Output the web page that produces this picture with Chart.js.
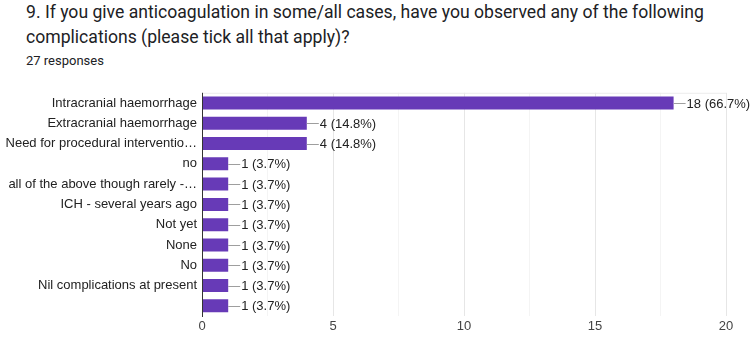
<!DOCTYPE html>
<html><head><meta charset="utf-8">
<script src="https://cdn.jsdelivr.net/npm/chart.js@4"></script>
<style>
html,body{margin:0;padding:0;background:#fff;width:755px;height:341px;overflow:hidden;font-family:Roboto,Arial,sans-serif}
#t{position:absolute;left:26px;top:0px;font-size:17.6px;line-height:25px;color:#202124;font-family:Roboto,sans-serif}
#s{position:absolute;left:26px;top:52px;font-size:13px;line-height:18px;color:#202124;font-family:Roboto,sans-serif}
#w{position:absolute;left:0;top:80px;width:755px;height:261px}
</style></head><body>
<div id="t">9. If you give anticoagulation in some/all cases, have you observed any of the following<br>complications (please tick all that apply)?</div>
<div id="s">27 responses</div>
<div id="w"><canvas id="c"></canvas></div>
<script>
const categories = ["Intracranial haemorrhage","Extracranial haemorrhage","Need for procedural interventio…","no","all of the above though rarely -…","ICH - several years ago","Not yet","None","No","Nil complications at present",""];
const counts = [18,4,4,1,1,1,1,1,1,1,1];
const percents = ["66.7%","14.8%","14.8%","3.7%","3.7%","3.7%","3.7%","3.7%","3.7%","3.7%","3.7%"];
const xTicks = [0,5,10,15,20];

const labelPlugin = {
  id:'lbl',
  afterDatasetsDraw(chart){
    const ctx = chart.ctx;
    const meta = chart.getDatasetMeta(0);
    ctx.save();
    ctx.font = '13px Arial, "Liberation Sans", sans-serif';
    ctx.textBaseline = 'middle';
    meta.data.forEach((b,i)=>{
      const x = b.x, y = b.y;
      ctx.strokeStyle = '#9e9e9e';
      ctx.lineWidth = 1;
      ctx.beginPath();
      ctx.moveTo(x, Math.round(y)+0.5);
      ctx.lineTo(x+12, Math.round(y)+0.5);
      ctx.stroke();
      ctx.fillStyle = '#222';
      ctx.fillText(counts[i]+' ('+percents[i]+')', x+13, y+1);
    });
    const a = chart.chartArea;
    ctx.strokeStyle = '#ececec';
    ctx.beginPath();
    ctx.moveTo(a.left, a.top+0.5); ctx.lineTo(a.right, a.top+0.5);
    ctx.stroke();
    ctx.strokeStyle = '#333';
    ctx.beginPath();
    ctx.moveTo(a.left+0.5, a.top); ctx.lineTo(a.left+0.5, a.bottom+1);
    ctx.stroke();
    ctx.restore();
  }
};

new Chart(document.getElementById('c'), {
  type:'bar',
  data:{labels:categories, datasets:[{data:counts, backgroundColor:'#673ab7', barPercentage:0.64, categoryPercentage:1}]},
  options:{
    indexAxis:'y', responsive:true, maintainAspectRatio:false, animation:false,
    layout:{padding:{top:12,right:29,bottom:0,left:0}},
    plugins:{legend:{display:false}, tooltip:{enabled:false}},
    scales:{
      x:{min:0,max:20,
        ticks:{stepSize:2.5, autoSkip:false, maxRotation:0, color:'#444', font:{family:'Arial, "Liberation Sans", sans-serif', size:13},
          callback:(v)=> xTicks.includes(v) ? String(v) : ''},
        grid:{color:(c)=> (c.tick && c.tick.value%5===0) ? '#e6e6e6' : '#f4f4f4', drawTicks:false},
        border:{display:false},
        afterFit(s){s.height=25;}
      },
      y:{
        ticks:{color:'#222', font:{family:'Arial, "Liberation Sans", sans-serif', size:13}, padding:5, autoSkip:false},
        grid:{display:false, drawTicks:false},
        border:{display:false},
        afterFit(s){s.width=202;}
      }
    }
  },
  plugins:[labelPlugin]
});
</script>
</body></html>
